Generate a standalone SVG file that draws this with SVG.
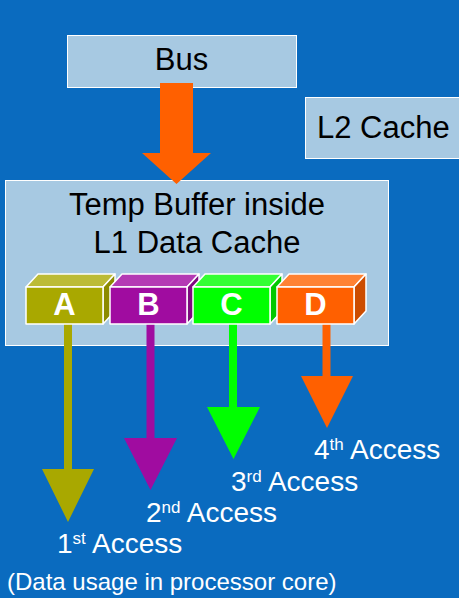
<svg xmlns="http://www.w3.org/2000/svg" width="459" height="598" viewBox="0 0 459 598">
  <style>
    .box { fill: #a7c9e2; stroke: #ffffff; stroke-width: 1; }
    .lbl { font-family: "Liberation Sans", Arial, sans-serif; font-size: 31px; fill: #000000; text-anchor: middle; }
    .cube { stroke: #ffffff; stroke-width: 1.5; stroke-linejoin: round; }
    .letter { font-family: "Liberation Sans", Arial, sans-serif; font-size: 31px; font-weight: bold; fill: #ffffff; text-anchor: middle; }
    .acc { font-family: "Liberation Sans", Arial, sans-serif; font-size: 28px; fill: #ffffff; }
    .sup { font-size: 17px; }
    .note { font-family: "Liberation Sans", Arial, sans-serif; font-size: 24px; fill: #ffffff; }
  </style>

  <!-- background -->
  <rect x="0" y="0" width="459" height="598" fill="#0a6bbf"/>

  <g id="bus">
    <rect class="box" x="67.5" y="35.5" width="229" height="52"/>
    <text class="lbl" x="181.5" y="70">Bus</text>
  </g>

  <g id="l2-cache">
    <rect class="box" x="305.5" y="97.5" width="160" height="61"/>
    <text class="lbl" x="317" y="138" style="text-anchor:start">L2 Cache</text>
  </g>

  <g id="temp-buffer">
    <rect class="box" x="5.5" y="180.5" width="383" height="165"/>
    <text class="lbl" x="197" y="215">Temp Buffer inside</text>
    <text class="lbl" x="197" y="253">L1 Data Cache</text>
  </g>

  <!-- connectors: bus fill arrow and access arrows -->
  <g id="connectors">
    <polygon fill="#ff6000" points="160,83 193,83 193,153 211,153 176.5,184 142,153 160,153"/>
    <polygon fill="#a9a800" points="64,324 72,324 72,469 94,469 68,522 42,469 64,469"/>
    <polygon fill="#a00ca0" points="146.5,324 154.5,324 154.5,438 177,438 150.5,490 124,438 146.5,438"/>
    <polygon fill="#00ff00" points="229,324 237,324 237,407 260,407 233.5,459 207,407 229,407"/>
    <polygon fill="#ff6000" points="322.5,324 330.5,324 330.5,376 353,376 327,428 301,376 322.5,376"/>
  </g>

  <g id="cell-a">
    <polygon class="cube" fill="#bcbb36" points="26,287 38,274 115,274 103,287"/>
    <polygon class="cube" fill="#8c8b00" points="103,287 115,274 115,311 103,324"/>
    <rect class="cube" fill="#a9a800" x="26" y="287" width="77" height="37"/>
    <text class="letter" x="64.5" y="315">A</text>
  </g>

  <g id="cell-b">
    <polygon class="cube" fill="#b43ab4" points="110,287 122,274 199,274 187,287"/>
    <polygon class="cube" fill="#800a80" points="187,287 199,274 199,311 187,324"/>
    <rect class="cube" fill="#a00ca0" x="110" y="287" width="77" height="37"/>
    <text class="letter" x="148.5" y="315">B</text>
  </g>

  <g id="cell-c">
    <polygon class="cube" fill="#33ff33" points="193,287 205,274 282,274 270,287"/>
    <polygon class="cube" fill="#00c800" points="270,287 282,274 282,311 270,324"/>
    <rect class="cube" fill="#00ff00" x="193" y="287" width="77" height="37"/>
    <text class="letter" x="231.5" y="315">C</text>
  </g>

  <g id="cell-d">
    <polygon class="cube" fill="#ff8233" points="277,287 289,274 366,274 354,287"/>
    <polygon class="cube" fill="#cc4c00" points="354,287 366,274 366,311 354,324"/>
    <rect class="cube" fill="#ff6000" x="277" y="287" width="77" height="37"/>
    <text class="letter" x="315.5" y="315">D</text>
  </g>

  <g id="access-labels">
    <text class="acc" x="314" y="459">4<tspan class="sup" dy="-9">th</tspan><tspan dy="9"> Access</tspan></text>
    <text class="acc" x="231" y="491">3<tspan class="sup" dy="-9">rd</tspan><tspan dy="9"> Access</tspan></text>
    <text class="acc" x="146" y="522">2<tspan class="sup" dy="-9">nd</tspan><tspan dy="9"> Access</tspan></text>
    <text class="acc" x="57" y="553">1<tspan class="sup" dy="-9">st</tspan><tspan dy="9"> Access</tspan></text>
    <text class="note" x="7" y="590">(Data usage in processor core)</text>
  </g>
</svg>
